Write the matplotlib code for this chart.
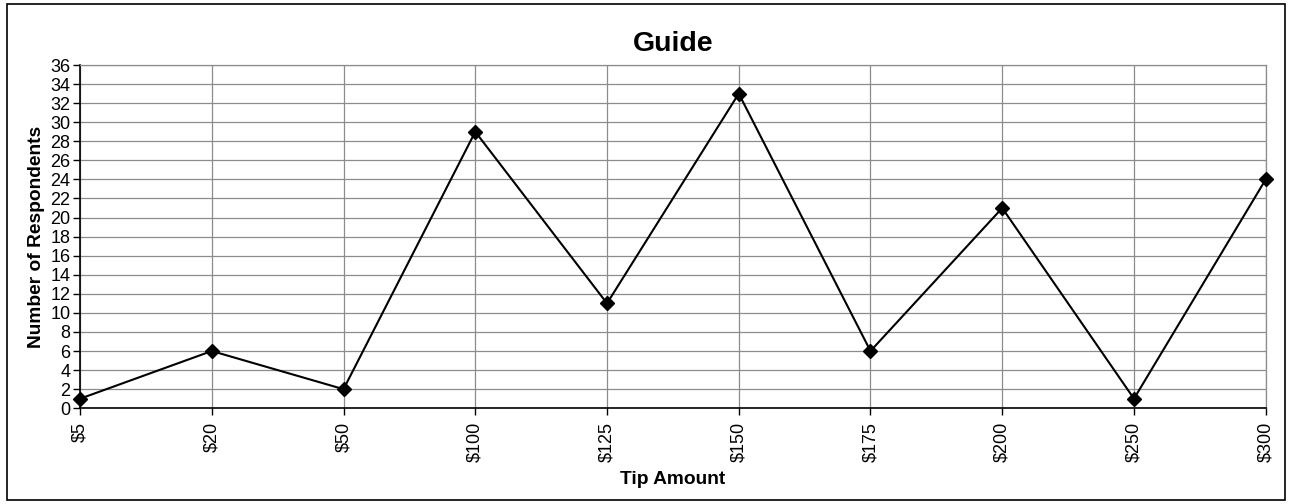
import numpy as np
from matplotlib import pyplot as plt
from matplotlib.patches import Rectangle

tip_labels = ['$5', '$20', '$50', '$100', '$125', '$150', '$175', '$200', '$250', '$300']
respondents = [1, 6, 2, 29, 11, 33, 6, 21, 1, 24]

plt.rcParams['font.family'] = ['Liberation Sans', 'DejaVu Sans']

fig = plt.figure(figsize=(12.93, 5.04), dpi=100)
ax = fig.add_axes([0.0619, 0.190, 0.917, 0.681])

xs = np.arange(len(tip_labels))
ax.plot(xs, respondents, color='black', linewidth=1.5, marker='D', markersize=7.5,
        markerfacecolor='black', zorder=3, clip_on=False)

ax.set_xlim(0, len(tip_labels) - 1)
ax.set_ylim(0, 36)
ax.set_yticks(np.arange(0, 37, 2))
ax.set_xticks(xs)
ax.set_xticklabels(tip_labels, rotation=90)
ax.grid(True, color='#8c8c8c', linewidth=0.9)
ax.set_axisbelow(True)
ax.tick_params(axis='both', direction='out', length=5, width=1, labelsize=13, colors='black')
ax.tick_params(axis='x', pad=5)
ax.tick_params(axis='y', pad=2)

for side in ['top', 'right']:
    ax.spines[side].set_color('#8c8c8c')
    ax.spines[side].set_linewidth(0.9)
for side in ['left', 'bottom']:
    ax.spines[side].set_color('black')
    ax.spines[side].set_linewidth(1.2)

ax.set_title('Guide', fontsize=20.5, fontweight='bold', pad=10)
ax.set_xlabel('Tip Amount', fontsize=13.8, fontweight='bold', labelpad=6)
ax.set_ylabel('Number of Respondents', fontsize=13.8, fontweight='bold', labelpad=4)

fig.patches.append(Rectangle((7 / 1293, 4 / 504), 1278 / 1293, 496 / 504,
                             transform=fig.transFigure, fill=False,
                             edgecolor='black', linewidth=1.2))

fig.savefig('out.png', dpi=100)
